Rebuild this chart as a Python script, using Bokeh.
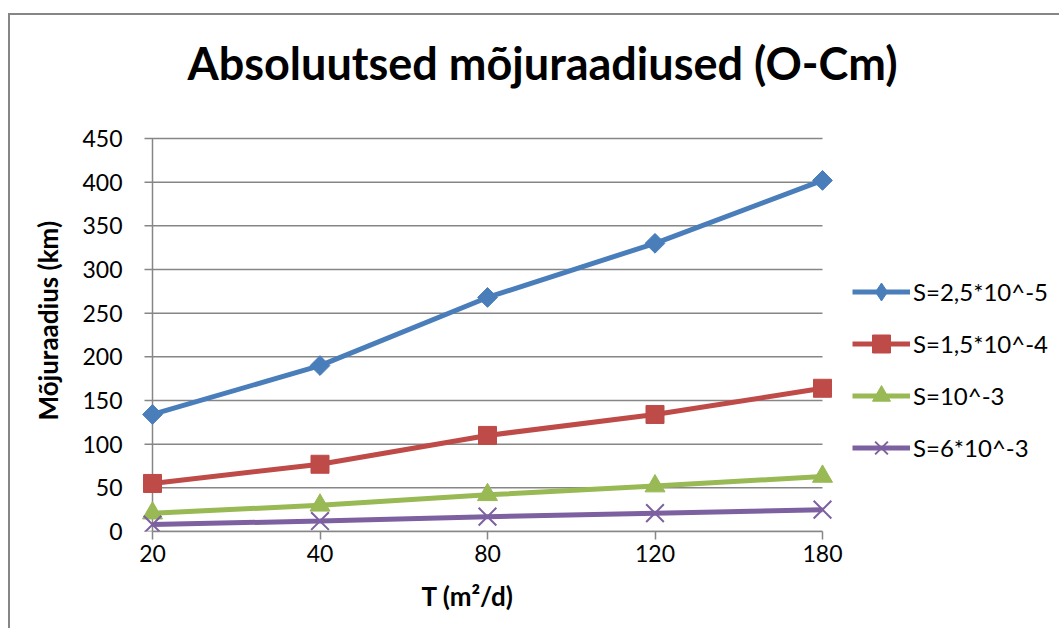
from bokeh.plotting import figure
from bokeh.models import (Range1d, FixedTicker, Legend, LegendItem, Label, Title,
                          InlineStyleSheet)
from bokeh.embed import file_html
from bokeh.resources import INLINE
import math

categories = ["20", "40", "80", "120", "180"]
s1 = [134, 190, 268, 330, 402]
s2 = [55, 77, 110, 134, 164]
s3 = [21, 30, 42, 52, 63]
s4 = [8, 12, 17, 21, 25]
series_names = ["S=2,5*10^-5", "S=1,5*10^-4", "S=10^-3", "S=6*10^-3"]
y_ticks = [0, 50, 100, 150, 200, 250, 300, 350, 400, 450]
title_text = "Absoluutsed mõjuraadiused (O-Cm)"
x_title = "T (m²/d)"
y_title = "Mõjuraadius (km)"

FONT = "Lato"
GREY = "#868686"
BLACK = "#000000"

W, H = 1059, 628
# pixel geometry of the plotting area
AX_L, AX_R, AX_T, AX_B = 152, 822, 138, 531
FR_L = 138  # frame left (a bit left of the axis so edge markers are not clipped)
TICK = 8

n = len(categories)
ppx = (AX_R - AX_L) / (n - 1)
ppy = (AX_B - AX_T) / (y_ticks[-1] - y_ticks[0])
x_range = Range1d(-(AX_L - FR_L) / ppx, (n - 1) + (W - AX_R) / ppx)
y_range = Range1d(0, y_ticks[-1] + AX_T / ppy)

p = figure(width=W, height=H, output_backend="svg", toolbar_location=None,
           x_range=x_range, y_range=y_range,
           min_border_left=FR_L, min_border_right=0, min_border_top=0,
           min_border_bottom=H - AX_B)
p.outline_line_color = None
p.xgrid.grid_line_color = None
p.ygrid.grid_line_color = None
p.background_fill_color = None

xs = list(range(n))
tick_x = xs[0] - TICK / ppx

# horizontal gridlines (extended left to form the y tick marks)
p.segment(x0=[tick_x] * len(y_ticks), x1=[xs[-1]] * len(y_ticks), y0=y_ticks, y1=y_ticks,
          line_color=GREY, line_width=1.5)
# vertical value-axis line at the first category
p.segment(x0=[xs[0]], x1=[xs[0]], y0=[y_ticks[0]], y1=[y_ticks[-1]],
          line_color=GREY, line_width=1.5)

p.xaxis.ticker = FixedTicker(ticks=xs)
p.xaxis.major_label_overrides = {i: c for i, c in enumerate(categories)}
p.xaxis.bounds = (xs[0], xs[-1])
p.xaxis.axis_line_color = GREY
p.xaxis.axis_line_width = 1.5
p.xaxis.major_tick_line_color = GREY
p.xaxis.major_tick_line_width = 1.5
p.xaxis.major_tick_out = TICK
p.xaxis.major_tick_in = 0
p.xaxis.major_label_standoff = 5

p.yaxis.ticker = FixedTicker(ticks=y_ticks)
p.yaxis.axis_line_color = None
p.yaxis.major_tick_line_color = None
p.yaxis.major_label_standoff = 10

for ax in (p.xaxis, p.yaxis):
    ax.minor_tick_line_color = None
    ax.major_label_text_font = FONT
    ax.major_label_text_font_size = "23px"
    ax.major_label_text_color = BLACK

colors = ["#4A7EBB", "#BE4B48", "#98B954", "#7D60A0"]
data = [s1, s2, s3, s4]
items = []
for i, (vals, c, name) in enumerate(zip(data, colors, series_names)):
    ln = p.line(xs, vals, line_color=c, line_width=5)
    if i == 0:
        # diamond-shaped legend marker hidden under the rotated squares
        lg = p.scatter(xs, vals, marker="diamond", size=18, fill_color=c, line_color=c)
        mk = p.scatter(xs, vals, marker="square", angle=math.pi / 4, size=14,
                       fill_color=c, line_color=c)
        rs = [ln, lg]
    elif i == 1:
        mk = p.scatter(xs, vals, marker="square", size=18, fill_color=c, line_color=c)
        rs = [ln, mk]
    elif i == 2:
        mk = p.scatter(xs, vals, marker="triangle", size=20, fill_color=c, line_color=c)
        rs = [ln, mk]
    else:
        mk = p.scatter(xs, vals, marker="x", size=25, line_color=c, line_width=2)
        rs = [ln, mk]
    items.append(LegendItem(label=name, renderers=rs))

legend = Legend(items=items, location=(852 - FR_L, 61), orientation="vertical",
                label_text_font=FONT, label_text_font_size="24px",
                label_text_color=BLACK,
                glyph_width=58, glyph_height=45, label_height=45,
                spacing=7, label_standoff=3, padding=0, margin=0,
                border_line_color=None, background_fill_alpha=0)
p.add_layout(legend, "center")

p.add_layout(Label(x=542 - FR_L, y=AX_B - 62, x_units="screen", y_units="screen",
                   text=title_text, text_font=FONT, text_color=BLACK,
                   text_font_style="bold", text_font_size="45px",
                   text_align="center", text_baseline="alphabetic"))

p.add_layout(Title(text=x_title, align="left", offset=283, vertical_align="middle",
                   standoff=28, text_font=FONT, text_font_size="26px",
                   text_font_style="bold", text_color=BLACK), "below")
p.add_layout(Title(text=y_title, align="left", offset=111, vertical_align="middle",
                   standoff=29, text_font=FONT, text_font_size="26px",
                   text_font_style="bold", text_color=BLACK), "left")

css = (":host::after{content:'';position:absolute;left:8px;top:13px;right:0;bottom:0;"
       "border-left:2px solid #868686;border-top:2px solid #868686;pointer-events:none;}")
p.stylesheets = [InlineStyleSheet(css=css)]

open("out.html", "w").write(file_html(p, INLINE))
